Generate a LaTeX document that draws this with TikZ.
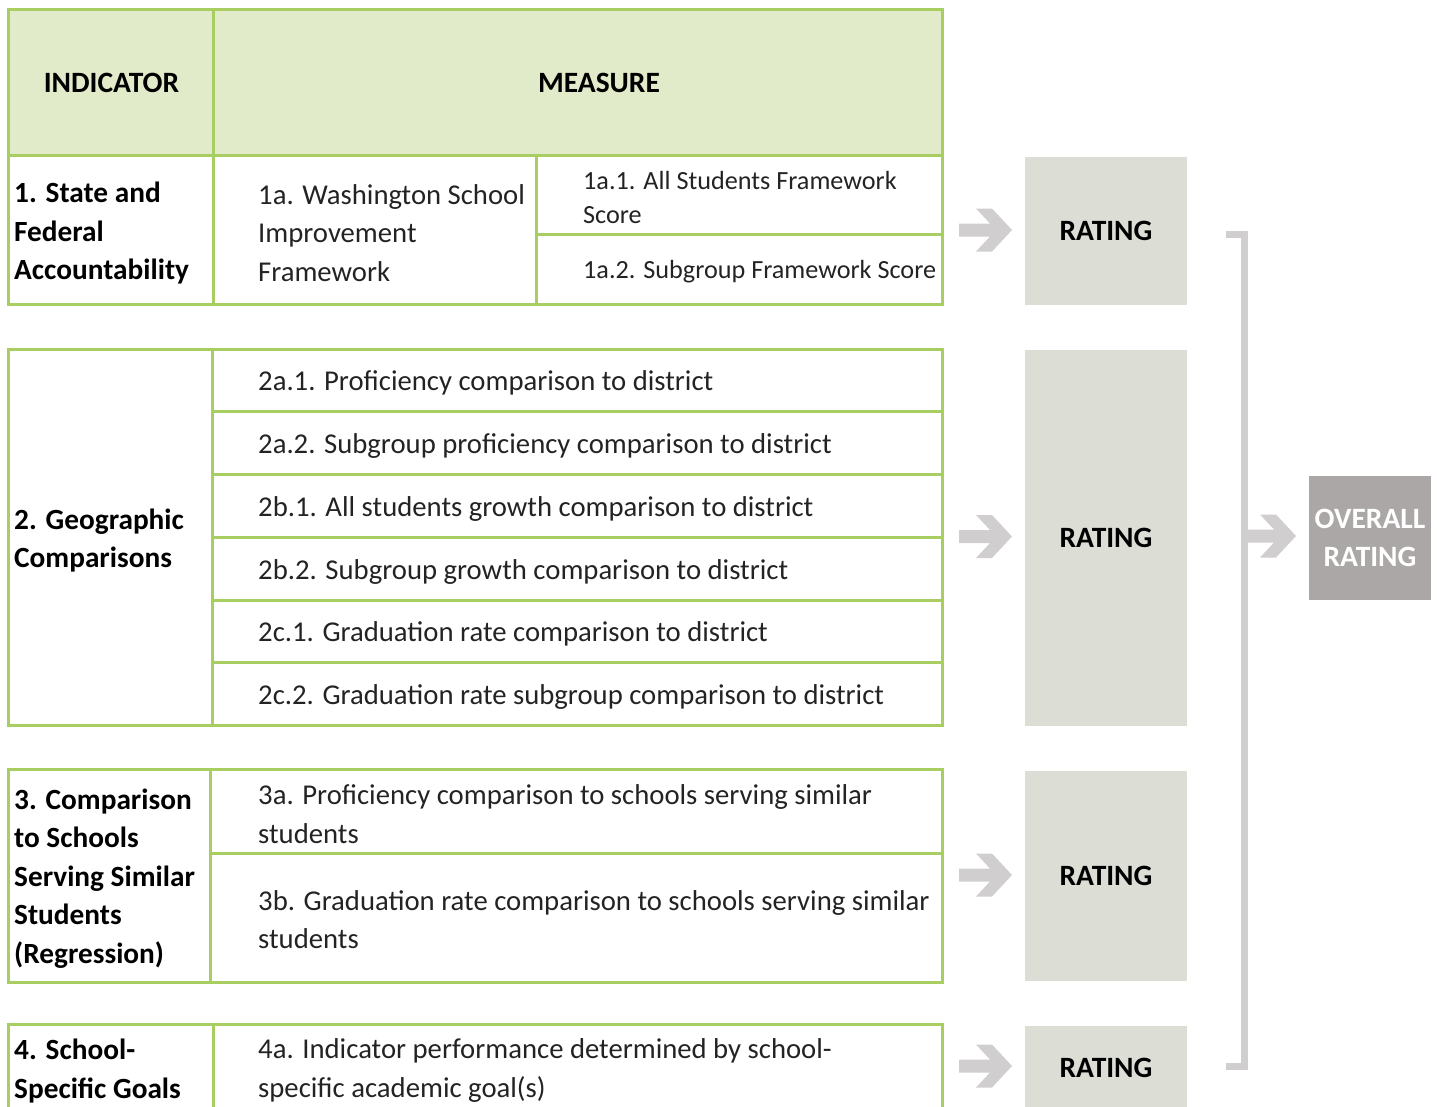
\documentclass[tikz,border=0pt]{standalone}
\usepackage{fontspec}
\setmainfont{Carlito}
\definecolor{lgreen}{RGB}{168,206,98}
\definecolor{headfill}{RGB}{226,235,201}
\definecolor{ratefill}{RGB}{220,221,213}
\definecolor{arrowgray}{RGB}{208,206,207}
\definecolor{overallfill}{RGB}{171,167,166}
\definecolor{meastext}{RGB}{35,35,35}
\begin{document}
\begin{tikzpicture}[x=1pt,y=-1pt,
  grid/.style={draw=lgreen, line width=3pt},
  ind/.style={font=\fontsize{29.3}{38.5}\selectfont\bfseries, align=left, anchor=west, inner sep=0pt, yshift=-2.5pt},
  meas/.style={font=\fontsize{28.7}{38.5}\selectfont, align=left, anchor=west, inner sep=0pt, text=meastext, yshift=-2pt},
  submeas/.style={font=\fontsize{26.2}{34}\selectfont, align=left, anchor=west, inner sep=0pt, text=meastext, yshift=-1.5pt},
  head/.style={font=\fontsize{29.5}{34}\selectfont\bfseries, inner sep=0pt},
  ratebox/.style={fill=ratefill, draw=none, inner sep=0pt, font=\fontsize{29.5}{34}\selectfont\bfseries},
  chev/.pic={\fill[arrowgray] (-26.5,-6.5) -- (4.5,-6.5) -- (-9.5,-21.5) -- (6.5,-21.5) -- (26.5,0) -- (6.5,21.5) -- (-9.5,21.5) -- (4.5,6.5) -- (-26.5,6.5) -- cycle;}]
\useasboundingbox (0,0) rectangle (1437,1106);
\clip (0,0) rectangle (1437,1106);

% ---------- table 1 (header + indicator 1)
\fill[headfill] (8,9) rectangle (942,155);
\draw[grid] (8,9) rectangle (942,304);
\draw[grid] (8,155) -- (942,155);
\draw[grid] (213,9) -- (213,304);
\draw[grid] (536,155) -- (536,304);
\draw[grid] (536,234) -- (942,234);
\node[head] (hind) at (111.5,83) {INDICATOR};
\node[head] (hmeas) at (599,83) {MEASURE};
\node[ind] (i1) at (14,231) {1. State and\\Federal\\Accountability};
\node[meas] (m1a) at (258,231) {1a. Washington School\\Improvement\\Framework};
\node[submeas] (m1a1) at (583,196) {1a.1. All Students Framework\\Score};
\node[submeas] (m1a2) at (583,270) {1a.2. Subgroup Framework Score};

% ---------- table 2
\draw[grid] (8,349) rectangle (942,725);
\draw[grid] (212,349) -- (212,725);
\foreach \yy in {411,474,537,600,662} \draw[grid] (212,\yy) -- (942,\yy);
\node[ind] (i2) at (14,538) {2. Geographic\\Comparisons};
\node[meas] (m2a1) at (258,381) {2a.1. Proficiency comparison to district};
\node[meas] (m2a2) at (258,444) {2a.2. Subgroup proficiency comparison to district};
\node[meas] (m2b1) at (258,507) {2b.1. All students growth comparison to district};
\node[meas] (m2b2) at (258,570) {2b.2. Subgroup growth comparison to district};
\node[meas] (m2c1) at (258,632) {2c.1. Graduation rate comparison to district};
\node[meas] (m2c2) at (258,695) {2c.2. Graduation rate subgroup comparison to district};

% ---------- table 3
\draw[grid] (8,769) rectangle (942,982);
\draw[grid] (210,769) -- (210,982);
\draw[grid] (210,853) -- (942,853);
\node[ind] (i3) at (14,876) {3. Comparison\\to Schools\\Serving Similar\\Students\\(Regression)};
\node[meas] (m3a) at (258,812) {3a. Proficiency comparison to schools serving similar\\students};
\node[meas] (m3b) at (258,917.5) {3b. Graduation rate comparison to schools serving similar\\students};

% ---------- table 4
\draw[grid] (8,1024) rectangle (942,1140);
\draw[grid] (213,1024) -- (213,1140);
\node[ind] (i4) at (14,1068.5) {4. School-\\Specific Goals};
\node[meas] (m4a) at (258,1068.5) {4a. Indicator performance determined by school-\\specific academic goal(s)};

% ---------- ratings
\node[ratebox, minimum width=162, minimum height=148] (r1) at (1106,231) {RATING};
\node[ratebox, minimum width=162, minimum height=376] (r2) at (1106,538) {RATING};
\node[ratebox, minimum width=162, minimum height=210] (r3) at (1106,876) {RATING};
\node[ratebox, minimum width=162, minimum height=84] (r4) at (1106,1068) {RATING};

\pic at (985.5,230) {chev};
\pic at (985.5,536.5) {chev};
\pic at (985.5,875) {chev};
\pic at (985.5,1066) {chev};

% ---------- bracket and overall
\coordinate (bt) at (1226,234);
\coordinate (bb) at (1226,1066.5);
\draw[arrowgray, line width=7pt] (bt) -- (1244.5,234) -- (1244.5,1066.5) -- (bb);
\pic at (1269.5,536) {chev};
\node[fill=overallfill, text=white, minimum width=122, minimum height=124, inner sep=0pt, align=center,
      font=\fontsize{29.5}{38}\selectfont\bfseries] (ov) at (1370,538) {OVERALL\\RATING};
\end{tikzpicture}
\end{document}
